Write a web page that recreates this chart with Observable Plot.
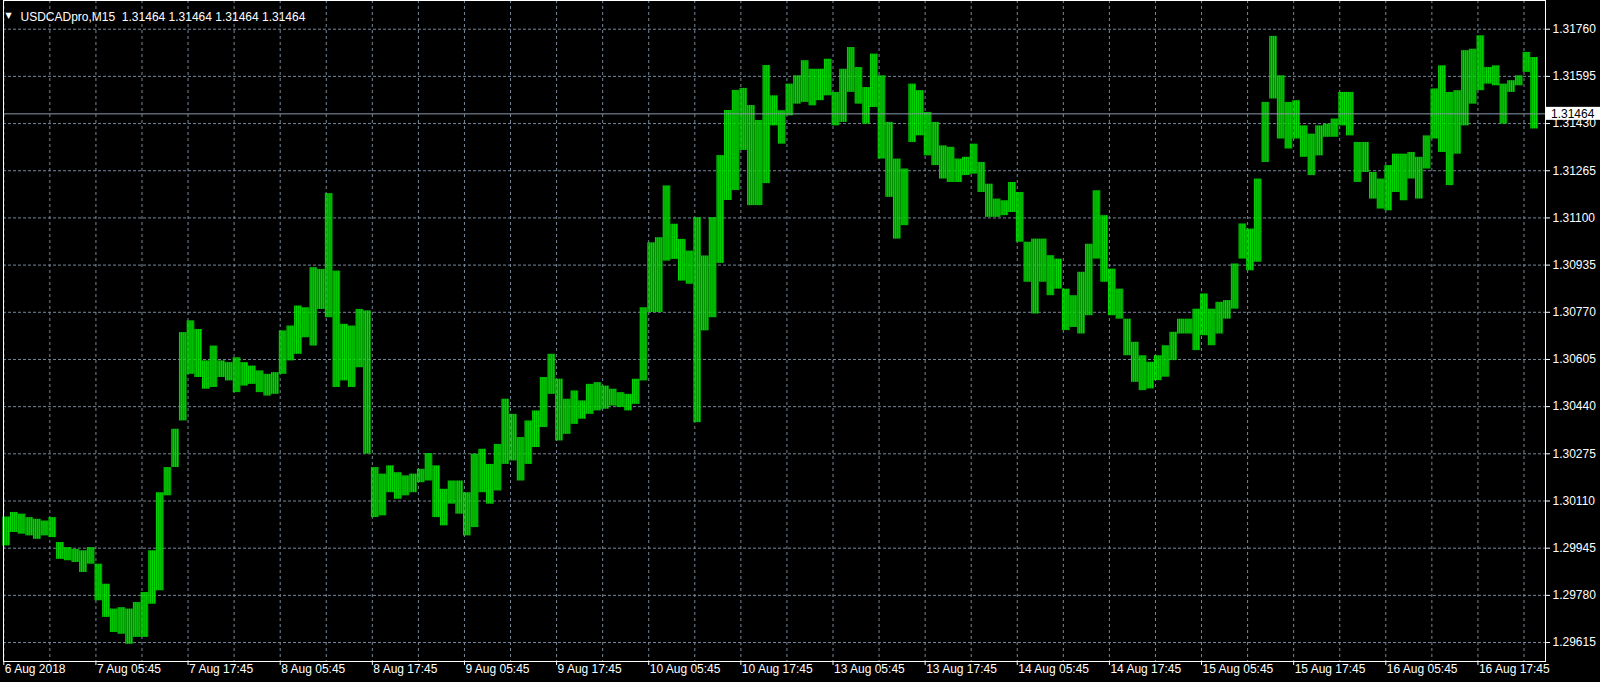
<!DOCTYPE html>
<html><head><meta charset="utf-8">
<script src="https://cdn.jsdelivr.net/npm/d3@7"></script>
<script src="https://cdn.jsdelivr.net/npm/@observablehq/plot@0.6"></script>
<style>
html,body{margin:0;padding:0;background:#000;overflow:hidden}
svg text{white-space:pre}
</style>
</head><body><div id="chart"></div>
<script>
// USDCADpro M15, grouped into hourly high/low records (4 M15 bars each), from 6 Aug 2018 17:45
const symbolTitle = "USDCADpro,M15  1.31464 1.31464 1.31464 1.31464";
const lastPrice = 1.31464;
const barsPerRecord = 4;
const hourHigh = [
1.30054,1.30070,1.30064,1.30052,1.30046,1.30040,1.30052,1.29965,1.29947,1.29941,
1.29936,1.29947,1.29889,1.29819,1.29732,1.29737,1.29732,1.29755,1.29790,1.29936,
1.30139,1.30227,1.30361,1.30699,1.30740,1.30710,1.30600,1.30652,1.30600,1.30594,
1.30611,1.30594,1.30582,1.30565,1.30553,1.30559,1.30705,1.30722,1.30792,1.30786,
1.30926,1.30920,1.31185,1.30914,1.30728,1.30722,1.30780,1.30775,1.30227,1.30204,
1.30233,1.30209,1.30198,1.30204,1.30221,1.30276,1.30233,1.30151,1.30180,1.30180,
1.30139,1.30274,1.30291,1.30238,1.30308,1.30466,1.30413,1.30332,1.30390,1.30425,
1.30542,1.30623,1.30536,1.30466,1.30495,1.30460,1.30518,1.30524,1.30512,1.30501,
1.30489,1.30483,1.30536,1.30786,1.31013,1.31031,1.31212,1.31078,1.31025,1.30984,
1.31101,1.30967,1.31101,1.31318,1.31476,1.31546,1.31553,1.31493,1.31441,1.31633,
1.31527,1.31475,1.31568,1.31597,1.31650,1.31620,1.31620,1.31655,1.31539,1.31620,
1.31696,1.31626,1.31556,1.31673,1.31597,1.31434,1.31306,1.31271,1.31568,1.31545,
1.31469,1.31434,1.31352,1.31347,1.31306,1.31312,1.31358,1.31294,1.31218,1.31166,
1.31160,1.31224,1.31189,1.31015,1.31026,1.31026,1.30968,1.30956,1.30851,1.30828,
1.30910,1.31008,1.31195,1.31108,1.30921,1.30851,1.30746,1.30665,1.30618,1.30595,
1.30618,1.30653,1.30700,1.30746,1.30746,1.30781,1.30834,1.30781,1.30805,1.30811,
1.30939,1.31079,1.31061,1.31236,1.31504,1.31735,1.31597,1.31504,1.31510,1.31422,
1.31393,1.31422,1.31428,1.31446,1.31539,1.31539,1.31364,1.31364,1.31259,1.31236,
1.31283,1.31323,1.31323,1.31329,1.31312,1.31387,1.31551,1.31632,1.31539,1.31545,
1.31685,1.31690,1.31737,1.31626,1.31632,1.31568,1.31580,1.31597,1.31679,1.31661
];
const hourLow = [
1.29953,1.30000,1.29994,1.29988,1.29976,1.29988,1.29982,1.29906,1.29901,1.29895,
1.29860,1.29889,1.29761,1.29703,1.29650,1.29644,1.29609,1.29633,1.29633,1.29749,
1.29796,1.30128,1.30227,1.30390,1.30553,1.30542,1.30501,1.30507,1.30542,1.30530,
1.30489,1.30512,1.30518,1.30489,1.30477,1.30483,1.30553,1.30600,1.30623,1.30681,
1.30652,1.30780,1.30751,1.30507,1.30530,1.30507,1.30576,1.30274,1.30052,1.30058,
1.30139,1.30116,1.30128,1.30139,1.30174,1.30180,1.30052,1.30023,1.30099,1.30064,
1.29988,1.30017,1.30139,1.30099,1.30145,1.30238,1.30250,1.30180,1.30238,1.30297,
1.30367,1.30483,1.30320,1.30343,1.30378,1.30396,1.30413,1.30425,1.30431,1.30442,
1.30437,1.30425,1.30448,1.30530,1.30769,1.30769,1.30949,1.30955,1.30879,1.30868,
1.30384,1.30705,1.30751,1.30941,1.31161,1.31196,1.31336,1.31143,1.31143,1.31220,
1.31422,1.31358,1.31457,1.31498,1.31504,1.31492,1.31510,1.31527,1.31422,1.31434,
1.31539,1.31498,1.31428,1.31486,1.31306,1.31172,1.31026,1.31073,1.31364,1.31387,
1.31317,1.31283,1.31236,1.31224,1.31224,1.31248,1.31253,1.31189,1.31102,1.31102,
1.31108,1.31119,1.31015,1.30875,1.30764,1.30875,1.30828,1.30851,1.30706,1.30717,
1.30694,1.30758,1.30956,1.30875,1.30758,1.30746,1.30618,1.30525,1.30496,1.30502,
1.30531,1.30543,1.30601,1.30694,1.30694,1.30636,1.30688,1.30653,1.30694,1.30746,
1.30781,1.30956,1.30915,1.30945,1.31294,1.31516,1.31376,1.31341,1.31376,1.31312,
1.31248,1.31317,1.31382,1.31382,1.31422,1.31387,1.31224,1.31259,1.31166,1.31131,
1.31125,1.31189,1.31160,1.31236,1.31166,1.31271,1.31376,1.31329,1.31213,1.31323,
1.31422,1.31498,1.31545,1.31568,1.31562,1.31428,1.31539,1.31562,1.31609,1.31411
];
const yTickLabels = ["1.29615","1.29780","1.29945","1.30110","1.30275","1.30440","1.30605",
  "1.30770","1.30935","1.31100","1.31265","1.31430","1.31595","1.31760"];
const xTickLabels = ["6 Aug 2018","7 Aug 05:45","7 Aug 17:45","8 Aug 05:45","8 Aug 17:45",
  "9 Aug 05:45","9 Aug 17:45","10 Aug 05:45","10 Aug 17:45","13 Aug 05:45","13 Aug 17:45",
  "14 Aug 05:45","14 Aug 17:45","15 Aug 05:45","15 Aug 17:45","16 Aug 05:45","16 Aug 17:45"];
const xTickBars = [0,48,96,144,192,240,288,336,384,432,480,528,576,624,672,720,768];
const gridBars = [0,24,48,72,96,120,144,168,192,216,240,264,288,312,336,360,384,408,432,456,
  480,504,528,552,576,600,624,648,672,696,720,744,768,792];

const records = hourHigh.map((h, i) => ({
  start: i * barsPerRecord - 0.5,
  end: i * barsPerRecord + barsPerRecord - 0.5,
  high: h,
  low: hourLow[i]
}));
const yTicks = yTickLabels.map(Number);
const xLabelData = xTickBars.map((b, i) => ({bar: b, label: xTickLabels[i]}));

const FONT = "'Liberation Sans', Arial, sans-serif";
const GRID = "#778899";
const BAR = "#00dc00";

const plot = Plot.plot({
  width: 1600,
  height: 682,
  marginTop: 0,
  marginBottom: 21,
  marginLeft: 3,
  marginRight: 55,
  style: {background: "#000", color: "#fff", fontFamily: FONT, fontSize: "12px"},
  x: {domain: [-0.15, 803.2], axis: null},
  y: {domain: [1.295487, 1.318604], axis: null},
  marks: [
    Plot.ruleY(yTicks, {stroke: GRID, strokeDasharray: "3,2", strokeWidth: 1}),
    Plot.ruleX(gridBars, {stroke: GRID, strokeDasharray: "3,3", strokeWidth: 1}),
    Plot.rect(records, {x1: "start", x2: "end", y1: "low", y2: "high", fill: BAR, className: "ohlc"}),
    Plot.ruleY([lastPrice], {stroke: "#8a99a9", strokeWidth: 1}),
    Plot.frame({stroke: "#ffffff"}),
    Plot.axisY({anchor: "right", ticks: yTicks, tickFormat: d => d.toFixed(5), tickSize: 4,
      tickPadding: 3, label: null, color: "#ffffff", fontSize: 12}),
    Plot.axisX({ticks: xTickBars, tickSize: 4, tickFormat: () => "", label: null, color: "#ffffff"}),
    Plot.text(xLabelData, {x: "bar", text: "label", frameAnchor: "bottom", textAnchor: "start",
      dx: 1, dy: 11, fill: "#ffffff", fontSize: 12}),
    Plot.text(["\u25BC"], {frameAnchor: "top-left", dx: 2, dy: 12, textAnchor: "start",
      fill: "#ffffff", fontSize: 8, fontFamily: "DejaVu Sans"}),
    Plot.text([symbolTitle], {frameAnchor: "top-left", dx: 17, dy: 12, textAnchor: "start",
      fill: "#ffffff", fontSize: 12})
  ]
});

document.getElementById("chart").appendChild(plot);

const yS = plot.scale("y"), xS = plot.scale("x");
const svg = d3.select(plot);

// vertical-stripe texture so each hourly block reads as its individual M15 bars
const step = xS.apply(1) - xS.apply(0);
const pat = svg.insert("defs", ":first-child").append("pattern")
  .attr("id", "m15bars").attr("patternUnits", "userSpaceOnUse")
  .attr("x", xS.apply(-0.5)).attr("y", 0).attr("width", step).attr("height", 682);
pat.append("rect").attr("x", 0).attr("y", 0).attr("width", step * 0.82).attr("height", 682).attr("fill", BAR);
svg.selectAll("g.ohlc rect").attr("fill", "url(#m15bars)");

// current-price label box on the right axis, positioned via the plot's scales
const py = yS.apply(lastPrice);
const px = xS.range[1];
svg.append("rect").attr("x", px + 1).attr("y", py - 6.5).attr("width", 1600 - px - 1).attr("height", 13)
  .attr("fill", "#ffffff");
svg.append("text").attr("x", px + 6).attr("y", py).attr("dy", "0.35em")
  .attr("text-anchor", "start")
  .attr("fill", "#000000").attr("font-family", FONT).attr("font-size", 12)
  .text(lastPrice.toFixed(5));
</script>
</body></html>
